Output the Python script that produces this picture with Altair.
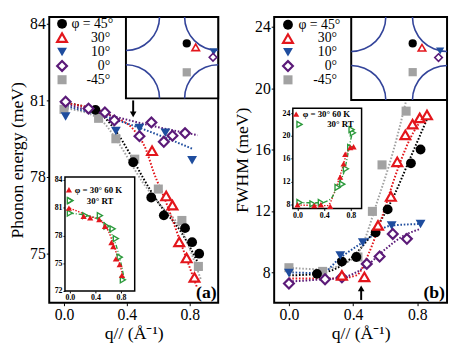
import math
import altair as alt
import pandas as pd

FONT = "Liberation Serif"
RED, BLUE, PURPLE, GRAY = "#e3161c", "#1f4d9e", "#5b1a78", "#a2a2a2"
GREEN, BLACK, FSBLUE = "#2c9a3c", "#000000", "#33449a"

# ---------------- panel (a): phonon energy ----------------
a45_q = [0.20, 0.44, 0.555, 0.635, 0.77, 0.815, 0.86]
a45_e = [80.63, 78.58, 77.2, 76.5, 76.0, 75.45, 75.0]
a30_q = [0.56, 0.65, 0.69, 0.733, 0.78, 0.83]
a30_e = [79.03, 77.26, 76.9, 75.46, 74.83, 74.07]
a10_q = [0.01, 0.33, 0.48, 0.645, 0.815]
a10_e = [80.37, 79.8, 79.92, 79.73, 78.66]
a0_q = [0.01, 0.156, 0.26, 0.32, 0.48, 0.556, 0.635, 0.69, 0.77]
a0_e = [80.95, 80.68, 80.53, 80.22, 79.6, 80.14, 79.38, 79.62, 79.72]
am45_q = [0.0, 0.22, 0.33, 0.45, 0.60, 0.75, 0.855]
am45_e = [80.65, 80.3, 79.5, 78.7, 77.53, 76.3, 74.5]

fa45_q = [0.0, 0.2, 0.33, 0.42, 0.5, 0.6, 0.75, 0.88]
fa45_e = [80.9, 80.6, 79.8, 78.9, 78.0, 77.0, 75.8, 74.3]
fa30_q = [0.0, 0.3, 0.45, 0.52, 0.57, 0.65, 0.75, 0.845]
fa30_e = [80.9, 80.4, 79.8, 79.1, 78.2, 77.0, 75.3, 73.7]
fa10_q = [0.0, 0.4, 0.82]
fa10_e = [80.8, 80.1, 79.1]
fa0_q = [-0.02, 0.3, 0.6, 0.85]
fa0_e = [80.9, 80.4, 79.95, 79.64]
fam45_q = [0.0, 0.22, 0.33, 0.42, 0.5, 0.6, 0.75, 0.87]
fam45_e = [80.7, 80.3, 79.5, 78.6, 77.8, 77.0, 75.9, 74.0]

# inset of (a): phi = 30 deg, 60 K and RT
ia60_q = [-0.015, 0.215, 0.318, 0.46, 0.55, 0.65, 0.68, 0.72, 0.78, 0.815]
ia60_e = [80.95, 80.07, 79.9, 79.72, 79.0, 77.24, 76.8, 75.47, 74.84, 73.7]
iaRT_q = [0.01, 0.0, 0.24, 0.47, 0.575, 0.67, 0.72, 0.78, 0.83]
iaRT_e = [81.77, 80.42, 80.15, 80.15, 79.0, 78.72, 77.66, 75.65, 73.2]
fia60_q = [0.0, 0.3, 0.5, 0.6, 0.7, 0.8, 0.85]
fia60_e = [80.95, 80.1, 79.5, 78.5, 76.7, 74.4, 73.2]
fiaRT_q = [0.0, 0.3, 0.5, 0.6, 0.7, 0.8, 0.85]
fiaRT_e = [80.4, 80.1, 79.6, 78.8, 77.4, 75.0, 73.3]

# ---------------- panel (b): FWHM ----------------
b45_q = [0.175, 0.33, 0.42, 0.54, 0.615, 0.76, 0.82]
b45_w = [7.9, 8.7, 9.0, 10.6, 12.1, 15.1, 16.0]
b30_q = [0.33, 0.47, 0.555, 0.635, 0.675, 0.725, 0.77, 0.815, 0.86]
b30_w = [7.8, 7.7, 11.06, 12.94, 15.2, 16.95, 17.65, 18.06, 18.25]
b10_q = [0.0, 0.32, 0.46, 0.64, 0.82]
b10_w = [7.95, 9.1, 9.94, 11.05, 11.15]
b0_q = [0.0, 0.225, 0.33, 0.485, 0.565, 0.647, 0.735]
b0_w = [7.27, 7.55, 7.68, 8.55, 9.03, 10.5, 10.18]
bm45_q = [0.0, 0.21, 0.43, 0.52, 0.58, 0.73]
bm45_w = [8.3, 8.06, 9.0, 11.97, 15.0, 18.5]

fb45_q = [0.0, 0.17, 0.35, 0.45, 0.55, 0.65, 0.75, 0.865]
fb45_w = [7.8, 7.9, 8.6, 9.6, 11.0, 12.9, 15.3, 18.1]
fb30_q = [0.0, 0.3, 0.42, 0.5, 0.58, 0.66, 0.75, 0.86]
fb30_w = [7.6, 7.6, 7.8, 9.3, 11.6, 14.2, 16.6, 18.4]
fb10_q = [0.0, 0.2, 0.32, 0.46, 0.64, 0.83]
fb10_w = [8.0, 7.95, 8.95, 9.95, 11.05, 11.15]
fb0_q = [0.0, 0.22, 0.33, 0.48, 0.6, 0.7, 0.81]
fb0_w = [7.4, 7.55, 7.65, 8.4, 9.5, 10.3, 10.8]
fbm45_q = [0.0, 0.2, 0.35, 0.45, 0.55, 0.65, 0.74]
fbm45_w = [8.3, 8.2, 8.6, 9.6, 12.6, 15.9, 19.6]

# inset of (b)
ib60_q = [0.0, 0.25, 0.35, 0.49, 0.64, 0.69, 0.715, 0.79, 0.84]
ib60_w = [7.95, 7.8, 7.95, 7.66, 12.8, 15.1, 16.8, 17.98, 18.1]
ibRT_q = [0.03, 0.225, 0.35, 0.6, 0.67, 0.725, 0.79, 0.83, 0.81]
ibRT_w = [8.34, 8.1, 8.34, 10.98, 11.56, 14.25, 17.98, 20.56, 21.1]
fib60_q = [0.0, 0.45, 0.55, 0.65, 0.75, 0.85]
fib60_w = [7.9, 7.8, 10.0, 13.5, 17.2, 18.2]
fibRT_q = [0.0, 0.35, 0.5, 0.6, 0.7, 0.8, 0.83]
fibRT_w = [8.3, 8.3, 9.0, 11.3, 13.8, 19.5, 21.0]

LEGEND_MAIN = ["\u03c6 = 45\u00b0", "30\u00b0", "10\u00b0", "0\u00b0", "-45\u00b0"]
LEGEND_INSET = ["\u03c6 = 30\u00b0  60 K", "30\u00b0  RT"]

W_A, W_B, H = 172, 176, 291


def frame(q, v):
    return pd.DataFrame({"q": q, "v": v})


def enc_xy(sx, sy, xaxis=None, yaxis=None):
    return dict(x=alt.X("q:Q", scale=sx, axis=xaxis), y=alt.Y("v:Q", scale=sy, axis=yaxis))


def line(q, v, color, sx, sy, dash=(1.6, 1.8), sw=2.0, xaxis=None, yaxis=None, interp="monotone"):
    return alt.Chart(frame(q, v)).mark_line(
        color=color, strokeDash=list(dash), strokeWidth=sw, interpolate=interp, clip=True
    ).encode(**enc_xy(sx, sy, xaxis, yaxis))


def mk(shape, color, size, hollow, sw):
    if hollow:
        return dict(shape=shape, filled=True, fill="white", stroke=color, strokeWidth=sw, size=size, opacity=1)
    return dict(shape=shape, filled=True, fill=color, strokeWidth=0, size=size, opacity=1)


def pts(q, v, shape, color, sx, sy, size=100, hollow=False, sw=2.0):
    return alt.Chart(frame(q, v)).mark_point(**mk(shape, color, size, hollow, sw)).encode(**enc_xy(sx, sy))


def dpt(q, v, shape, color, sx, sy, size=100, hollow=False, sw=2.0):
    return alt.Chart(frame([q], [v])).mark_point(**mk(shape, color, size, hollow, sw)).encode(**enc_xy(sx, sy))


def txt(q, v, s, sx, sy, size=16, align="left", weight="normal"):
    return alt.Chart(frame([q], [v])).mark_text(
        text=s, font=FONT, fontSize=size, fontWeight=weight, align=align, baseline="middle", color="black"
    ).encode(**enc_xy(sx, sy))


def box(q0, q1, v0, v1, sx, sy, sw=2.0, xaxis=None, yaxis=None):
    d = pd.DataFrame({"q": [q0], "q2": [q1], "v": [v0], "v2": [v1]})
    return alt.Chart(d).mark_rect(fill="white", stroke="black", strokeWidth=sw).encode(
        x=alt.X("q:Q", scale=sx, axis=xaxis), x2="q2:Q",
        y=alt.Y("v:Q", scale=sy, axis=yaxis), y2="v2:Q")


def fs_arcs(q0, q1, v0, v1, sx, sy, r):
    corners = [(q0, v1, math.pi / 2, math.pi), (q1, v1, math.pi, 1.5 * math.pi),
               (q1, v0, 1.5 * math.pi, 2 * math.pi), (q0, v0, 0.0, math.pi / 2)]
    out = []
    for cq, cv, t0, t1 in corners:
        out.append(alt.Chart(frame([cq], [cv])).mark_arc(
            radius=r, radius2=r - 1.6, theta=t0, theta2=t1, fill=FSBLUE
        ).encode(**enc_xy(sx, sy)))
    return out


AX = dict(domain=False, grid=False, labelFont=FONT, titleFont=FONT, titleFontWeight="normal",
          labelColor="black", titleColor="black", tickColor="black")


def main_axes(title, values):
    xa = alt.Axis(values=[0.0, 0.4, 0.8], format=".1f", title="q// (\u00c5\u207b\u00b9)", orient="bottom",
                  tickSize=3, labelPadding=1, titlePadding=2, labelFontSize=16, titleFontSize=18, **AX)
    ya = alt.Axis(values=values, title=title, orient="left", tickSize=3, labelPadding=1, titlePadding=3,
                  labelFontSize=16, titleFontSize=18, **AX)
    return xa, ya


def inset_axes(values, x_off, y_off):
    xa = alt.Axis(values=[0.0, 0.4, 0.8], format=".1f", title=None, orient="bottom", offset=y_off,
                  tickSize=2, labelPadding=1, labelFontSize=8, labelFontWeight="bold", minExtent=0, **AX)
    ya = alt.Axis(values=values, title=None, orient="left", offset=x_off, tickSize=2, labelPadding=1,
                  labelFontSize=8, labelFontWeight="bold", minExtent=0, **AX)
    return xa, ya


series_styles = [("circle", BLACK, False), ("triangle-up", RED, True), ("triangle-down", BLUE, False),
                 ("diamond", PURPLE, True), ("square", GRAY, False)]


def panel(sx, sy, axes, fits, series, fsbox, fsmarks, leg, arrow, label,
          isx, isy, iaxes, iframe, ifits, ipts, ileg):
    xa, ya = axes
    layers = []
    for i, (q, v, c) in enumerate(fits):
        if i == 0:
            layers.append(line(q, v, c, sx, sy, xaxis=xa, yaxis=ya))
        else:
            layers.append(line(q, v, c, sx, sy))
    # Fermi-surface sketch
    q0, q1, v0, v1, r = fsbox
    layers.append(box(q0, q1, v0, v1, sx, sy))
    layers += fs_arcs(q0, q1, v0, v1, sx, sy, r)
    for (q, v), (shape, c, hollow) in zip(fsmarks, series_styles):
        layers.append(dpt(q, v, shape, c, sx, sy, size=70 if not hollow else 60, hollow=hollow, sw=1.6))
    # data points
    for k in [4, 0, 2, 3, 1]:
        (q, v) = series[k]
        shape, c, hollow = series_styles[k]
        layers.append(pts(q, v, shape, c, sx, sy, size=100 if k != 4 else 85, hollow=hollow, sw=2.2))
    # legend
    (lq, tq, tq0, vs) = leg
    for k, (v, s) in enumerate(zip(vs, LEGEND_MAIN)):
        shape, c, hollow = series_styles[k]
        layers.append(dpt(lq, v, shape, c, sx, sy, size=100 if k != 4 else 85, hollow=hollow, sw=2.2))
        layers.append(txt(tq0 if k == 0 else tq, v, s, sx, sy, size=14, align="right"))
    # arrow
    aq, av0, av1, ash = arrow
    layers.append(alt.Chart(pd.DataFrame({"q": [aq], "v": [av0], "v2": [av1]})).mark_rule(
        color="black", strokeWidth=2).encode(
        x=alt.X("q:Q", scale=sx, axis=None), y=alt.Y("v:Q", scale=sy, axis=None), y2="v2:Q"))
    layers.append(dpt(aq, av1, ash, BLACK, sx, sy, size=45))
    lq_, lv_, ltxt = label
    layers.append(txt(lq_, lv_, ltxt, sx, sy, size=18, align="center", weight="bold"))

    # inset
    ixa, iya = iaxes
    layers.append(box(iframe[0], iframe[1], iframe[2], iframe[3], isx, isy, sw=1.5, xaxis=ixa, yaxis=iya))
    (q, v) = ifits[0]
    layers.append(line(q, v, RED, isx, isy, dash=(1.5, 1.5), sw=1.4))
    (q, v) = ifits[1]
    layers.append(line(q, v, GREEN, isx, isy, dash=(4, 2, 1, 2), sw=1.4))
    (q, v) = ipts[1]
    layers.append(pts(q, v, "triangle-right", GREEN, isx, isy, size=36, hollow=True, sw=1.4))
    (q, v) = ipts[0]
    layers.append(pts(q, v, "triangle-up", RED, isx, isy, size=40))
    (m1, m2, t1, t2) = ileg
    layers.append(dpt(m1[0], m1[1], "triangle-up", RED, isx, isy, size=40))
    layers.append(dpt(m2[0], m2[1], "triangle-right", GREEN, isx, isy, size=36, hollow=True, sw=1.4))
    layers.append(txt(t1[0], t1[1], LEGEND_INSET[0], isx, isy, size=9, weight="bold"))
    layers.append(txt(t2[0], t2[1], LEGEND_INSET[1], isx, isy, size=9, weight="bold"))
    return alt.layer(*layers).resolve_scale(x="independent", y="independent")


# ---------- panel a ----------
sxa = alt.Scale(domain=[-0.094, 0.981], nice=False, zero=False)
sya = alt.Scale(domain=[73.08, 84.27], nice=False, zero=False)
isxa = alt.Scale(domain=[-0.077, 1.015], range=[16, 87], nice=False, zero=False)
isya = alt.Scale(domain=[72.0, 84.32], range=[279, 163], nice=False, zero=False)

panel_a = panel(
    sxa, sya, main_axes("Phonon energy (meV)", [75, 78, 81, 84]),
    [(fa45_q, fa45_e, BLACK), (fam45_q, fam45_e, GRAY), (fa30_q, fa30_e, RED),
     (fa10_q, fa10_e, BLUE), (fa0_q, fa0_e, PURPLE)],
    [(a45_q, a45_e), (a30_q, a30_e), (a10_q, a10_e), (a0_q, a0_e), (am45_q, am45_e)],
    (0.394, 0.981, 81.08, 84.27, 35),
    [(0.781, 83.23), (0.838, 83.08), (0.952, 82.9), (0.948, 82.69), (0.781, 82.1)],
    (-0.0125, 0.294, 0.313, [84.0, 83.46, 82.9, 82.35, 81.81]),
    (0.44, 81.0, 80.45, "triangle-down"),
    (0.906, 73.46, "(a)"),
    isxa, isya, inset_axes([72, 75, 78, 81, 84], -16, -12),
    (-0.077, 1.015, 72.0, 84.32),
    [(fia60_q, fia60_e), (fiaRT_q, fiaRT_e)],
    [(ia60_q, ia60_e), (iaRT_q, iaRT_e)],
    ((-0.015, 82.94), (0.0, 81.77), (0.077, 82.94), (0.266, 81.77)),
).properties(width=W_A, height=H)

# ---------- panel b ----------
sxb = alt.Scale(domain=[-0.092, 0.985], nice=False, zero=False)
syb = alt.Scale(domain=[6.02, 24.64], nice=False, zero=False)
isxb = alt.Scale(domain=[-0.07, 0.96], range=[19, 89], nice=False, zero=False)
isyb = alt.Scale(domain=[7.3, 24.86], range=[195, 93], nice=False, zero=False)

panel_b = panel(
    sxb, syb, main_axes("FWHM (meV)", [8, 12, 16, 20, 24]),
    [(fb45_q, fb45_w, BLACK), (fbm45_q, fbm45_w, GRAY), (fb30_q, fb30_w, RED),
     (fb10_q, fb10_w, BLUE), (fb0_q, fb0_w, PURPLE)],
    [(b45_q, b45_w), (b30_q, b30_w), (b10_q, b10_w), (b0_q, b0_w), (bm45_q, bm45_w)],
    (0.388, 0.985, 19.22, 24.64, 36),
    [(0.771, 22.91), (0.829, 22.63), (0.942, 22.42), (0.932, 21.99), (0.771, 21.04)],
    (-0.006, 0.30, 0.32, [24.13, 23.23, 22.34, 21.44, 20.54]),
    (0.45, 6.2, 6.95, "triangle-up"),
    (0.905, 6.66, "(b)"),
    isxb, isyb, inset_axes([8, 12, 16, 20, 24], -19, -(H - 195)),
    (-0.07, 0.96, 7.3, 24.86),
    [(fib60_q, fib60_w), (fibRT_q, fibRT_w)],
    [(ib60_q, ib60_w), (ibRT_q, ibRT_w)],
    ((-0.02, 23.83), (0.03, 22.03), (0.078, 23.83), (0.445, 22.03)),
).properties(width=W_B, height=H)

chart = alt.hconcat(panel_a, panel_b, spacing=12).properties(
    padding={"left": 0, "top": 4, "right": 0, "bottom": 0}
).configure_view(stroke="black", strokeWidth=2)

chart.save("out.html", embed_options={"renderer": "svg", "actions": False})
